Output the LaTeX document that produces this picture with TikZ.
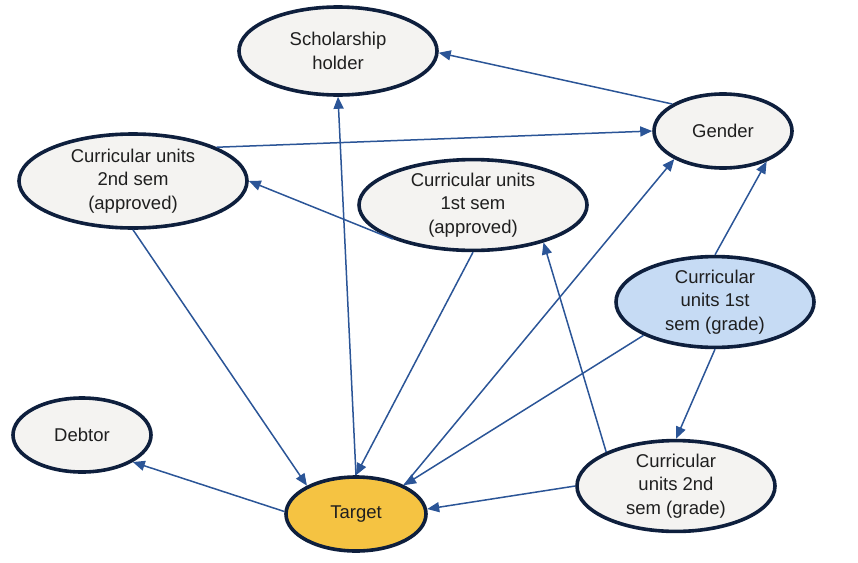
\documentclass[tikz,border=0pt]{standalone}
\usepackage{fontspec}
\setmainfont{Liberation Sans}
\usetikzlibrary{shapes.geometric,arrows.meta}
\definecolor{rimnavy}{HTML}{0E1F3D}
\definecolor{linkblue}{HTML}{2B5597}
\definecolor{plainfill}{HTML}{F4F3F1}
\definecolor{gradefill}{HTML}{C6DBF4}
\definecolor{targetfill}{HTML}{F5C342}
\tikzset{
  var/.style={ellipse, draw=rimnavy, line width=3.6pt, fill=plainfill,
    inner sep=0pt, align=center, text=black!88,
    font=\fontsize{18.5pt}{23.5pt}\selectfont},
  link/.style={draw=linkblue, line width=1.5pt,
    -{Triangle[length=12pt,width=10pt]}}
}
\begin{document}
\begin{tikzpicture}[x=1pt,y=-1pt]
  \useasboundingbox (0,0) rectangle (858,562);
%Knoten
  \node[var, minimum width=198pt, minimum height=88pt] (sch) at (338,51)
    {Scholarship\\holder};
  \node[var, minimum width=138pt, minimum height=74pt] (gen) at (723,131)
    {Gender};
  \node[var, minimum width=228pt, minimum height=94pt] (cu2a) at (133,181)
    {Curricular units\\2nd sem\\(approved)};
  \node[var, minimum width=228pt, minimum height=90pt] (cu1a) at (473,205)
    {Curricular units\\1st sem\\(approved)};
  \node[var, fill=gradefill, minimum width=198pt, minimum height=88pt] (cu1g) at (715,302)
    {Curricular\\units 1st\\sem (grade)};
  \node[var, minimum width=138pt, minimum height=74pt] (deb) at (82,435)
    {Debtor};
  \node[var, fill=targetfill, minimum width=140pt, minimum height=74pt] (tgt) at (356,514)
    {Target};
  \node[var, minimum width=198pt, minimum height=90pt] (cu2g) at (676,486)
    {Curricular\\units 2nd\\sem (grade)};
%Kanten
  \draw[link] (gen.152) -- (sch.-1);
  \draw[link] (cu2a.22) -- (gen.180);
  \draw[link] (cu1a.203) -- (cu2a.0);
  \draw[link] (tgt.90) -- (sch.270);
  \draw[link] (cu2a.270) -- (tgt.150);
  \draw[link] (cu1a.270) -- (tgt.90);
  \draw[link] (tgt.31) -- (gen.-150);
  \draw[link] (cu1g.90) -- (gen.-35);
  \draw[link] (cu1g.205) -- (tgt.31);
  \draw[link] (cu1g.270) -- (cu2g.90);
  \draw[link] (cu2g.154) -- (cu1a.-28);
  \draw[link] (cu2g.180) -- (tgt.4);
  \draw[link] (tgt.178) -- (deb.-28);
\end{tikzpicture}
\end{document}
